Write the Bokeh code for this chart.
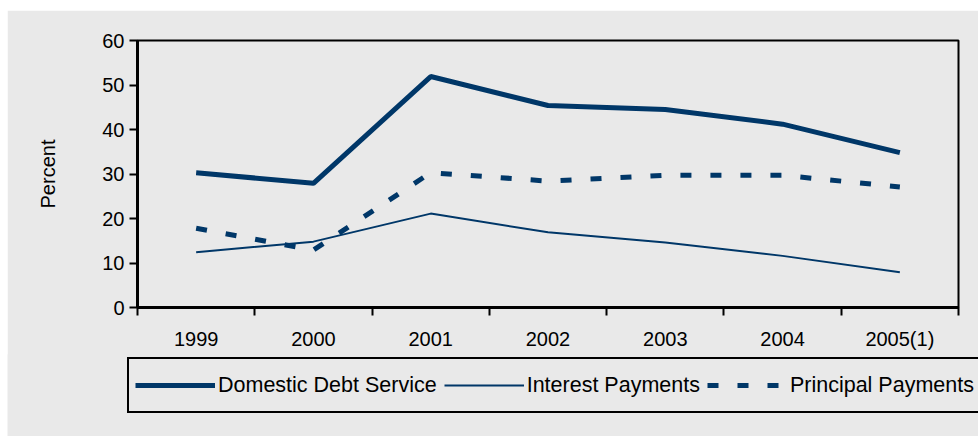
from bokeh.plotting import figure
from bokeh.models import FixedTicker, Legend, LegendItem, Range1d
from bokeh.embed import file_html
from bokeh.resources import INLINE

years = ["1999", "2000", "2001", "2002", "2003", "2004", "2005(1)"]
domestic = [30.3, 27.9, 51.9, 45.4, 44.5, 41.2, 34.8]
interest = [12.4, 14.8, 21.1, 16.9, 14.6, 11.6, 7.9]
principal = [17.8, 12.9, 30.3, 28.4, 29.7, 29.7, 27.1]
y_ticks = [0, 10, 20, 30, 40, 50, 60]
series_names = ["Domestic Debt Service", "Interest Payments", "Principal Payments"]

xs = [i + 0.5 for i in range(len(years))]
NAVY = "#003768"
GRAY = "#e9e9e9"
FONT = "Liberation Sans"
FS = "20px"
styles = [dict(line_width=5), dict(line_width=2), dict(line_width=5, line_dash="11 19")]

p = figure(width=971, height=345, output_backend="svg", toolbar_location=None,
           x_range=Range1d(0, len(years)), y_range=Range1d(0, 60))
p.margin = (10, 0, 0, 7)
p.min_border_left = 130
p.min_border_right = 20
p.min_border_top = 30
p.min_border_bottom = 48
p.background_fill_color = GRAY
p.border_fill_color = GRAY
p.outline_line_color = "black"
p.outline_line_width = 2
p.grid.visible = False

for vals, st in zip([domestic, interest, principal], styles):
    p.line(xs, vals, line_color=NAVY, **st)

# x axis
xa = p.xaxis[0]
xa.ticker = FixedTicker(ticks=xs, minor_ticks=list(range(len(years) + 1)))
xa.major_label_overrides = {x: y for x, y in zip(xs, years)}
xa.major_tick_out = 0
xa.major_tick_in = 0
xa.minor_tick_out = 8
xa.minor_tick_in = 0
xa.minor_tick_line_color = "black"
xa.minor_tick_line_width = 2
xa.axis_line_width = 3
xa.axis_line_color = "black"
xa.major_label_standoff = 12
xa.major_label_text_font = FONT
xa.major_label_text_font_size = FS
xa.major_label_text_color = "black"

ya = p.yaxis[0]
ya.ticker = FixedTicker(ticks=y_ticks)
ya.minor_tick_line_color = None
ya.major_tick_out = 8
ya.major_tick_in = 0
ya.major_tick_line_width = 2
ya.major_tick_line_color = "black"
ya.axis_line_width = 3
ya.axis_line_color = "black"
ya.major_label_standoff = 5
ya.major_label_text_font = FONT
ya.major_label_text_font_size = FS
ya.major_label_text_color = "black"
ya.axis_label = "Percent"
ya.axis_label_text_font = FONT
ya.axis_label_text_font_size = FS
ya.axis_label_text_font_style = "normal"
ya.axis_label_text_color = "black"
ya.axis_label_standoff = 40

# legend-only figure (separate root, so its frame is not aligned to p)
lf = figure(width=971, height=82, output_backend="svg", toolbar_location=None,
            x_range=Range1d(0, 1), y_range=Range1d(0, 1),
            x_axis_location=None, y_axis_location=None)
lf.margin = (-1, 0, 0, 7)
lf.min_border = 0
lf.min_border_left = 0
lf.min_border_right = 0
lf.min_border_top = 0
lf.min_border_bottom = 0
lf.grid.visible = False
lf.outline_line_color = None
lf.background_fill_color = GRAY
lf.border_fill_color = GRAY
items = []
for name, st in zip(series_names, styles):
    r = lf.line([5, 6], [5, 6], line_color=NAVY, **st)
    items.append(LegendItem(label=name, renderers=[r]))

legend = Legend(items=items, orientation="horizontal", location=(120, 23))
legend.glyph_width = 80
legend.glyph_height = 40
legend.label_height = 40
legend.label_standoff = 3
legend.spacing = 7
legend.padding = 6
legend.margin = 0
legend.label_text_font = FONT
legend.label_text_font_size = "21.5px"
legend.label_text_color = "black"
legend.border_line_color = "black"
legend.border_line_alpha = 1
legend.border_line_width = 2
legend.background_fill_color = GRAY
legend.background_fill_alpha = 1
lf.add_layout(legend)

open("out.html", "w").write(file_html([p, lf], INLINE))
